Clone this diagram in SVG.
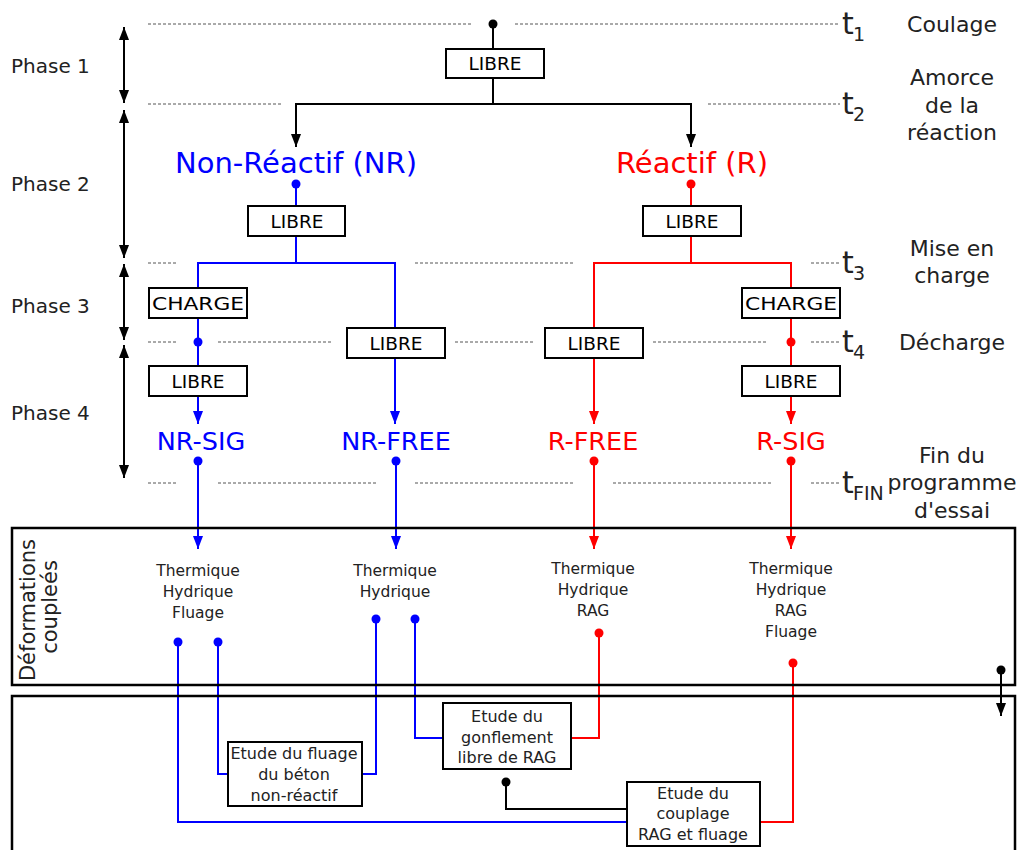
<svg xmlns="http://www.w3.org/2000/svg" width="1017" height="850" viewBox="0 0 1017 850">
<style>
text{font-family:"DejaVu Sans","Liberation Sans",sans-serif;fill:#222}
.lbl{font-size:22px;text-anchor:middle}
.ph{font-size:20px}
.tt{font-size:30px}
.ts{font-size:19px}
.bx{fill:#fff;stroke:#000;stroke-width:2}
.bt{font-size:18.5px;text-anchor:middle;fill:#000}
.big{font-size:29px;text-anchor:middle}
.nm{font-size:25.5px;text-anchor:middle}
.sm{font-size:15.5px;text-anchor:middle}
.sb{font-size:16px;text-anchor:middle}
.dash{stroke:#555;stroke-width:1;stroke-dasharray:3 2;fill:none}
.k{stroke:#000;stroke-width:2;fill:none}
.b{stroke:#0000ff;stroke-width:2;fill:none}
.r{stroke:#ff0000;stroke-width:2;fill:none}
.frame{fill:none;stroke:#000;stroke-width:2.5}
</style>
<defs>
<marker id="mk" viewBox="0 0 13 10" markerWidth="13" markerHeight="10" refX="13" refY="5" orient="auto-start-reverse" markerUnits="userSpaceOnUse"><path d="M0,0 L13,5 L0,10 Z" fill="#000"/></marker>
<marker id="mb" viewBox="0 0 13 10" markerWidth="13" markerHeight="10" refX="13" refY="5" orient="auto" markerUnits="userSpaceOnUse"><path d="M0,0 L13,5 L0,10 Z" fill="#0000ff"/></marker>
<marker id="mr" viewBox="0 0 13 10" markerWidth="13" markerHeight="10" refX="13" refY="5" orient="auto" markerUnits="userSpaceOnUse"><path d="M0,0 L13,5 L0,10 Z" fill="#ff0000"/></marker>
</defs>

<g id="timeline">
<path class="dash" d="M148,24H472M515,24H840M148,104H282M708,104H840M148,263H177M415,263H573M811,263H840M148,342H177M218,342H333M455,342H533M653,342H768M811,342H840M148,483H177M218,483H376M415,483H573M613,483H772M811,483H840"/>
<text class="tt" x="842" y="34">t</text><text class="ts" x="853" y="41">1</text>
<text class="tt" x="842" y="114">t</text><text class="ts" x="853" y="121">2</text>
<text class="tt" x="842" y="273">t</text><text class="ts" x="853" y="280">3</text>
<text class="tt" x="842" y="352">t</text><text class="ts" x="853" y="359">4</text>
<text class="tt" x="842" y="493">t</text><text class="ts" x="853" y="500">FIN</text>
</g>

<g id="event-labels">
<text class="lbl" x="952" y="32">Coulage</text>
<text class="lbl" x="952" y="85">Amorce</text>
<text class="lbl" x="952" y="113">de la</text>
<text class="lbl" x="952" y="140">réaction</text>
<text class="lbl" x="952" y="256">Mise en</text>
<text class="lbl" x="952" y="283">charge</text>
<text class="lbl" x="952" y="350">Décharge</text>
<text class="lbl" x="952" y="463">Fin du</text>
<text class="lbl" x="952" y="490">programme</text>
<text class="lbl" x="952" y="518">d'essai</text>
</g>

<g id="phases">
<text class="ph" x="11" y="73">Phase 1</text>
<text class="ph" x="11" y="191">Phase 2</text>
<text class="ph" x="11" y="313">Phase 3</text>
<text class="ph" x="11" y="420">Phase 4</text>
<path class="k" d="M124,27V103" marker-start="url(#mk)" marker-end="url(#mk)"/>
<path class="k" d="M124,110V258" marker-start="url(#mk)" marker-end="url(#mk)"/>
<path class="k" d="M124,264V340" marker-start="url(#mk)" marker-end="url(#mk)"/>
<path class="k" d="M124,345V478" marker-start="url(#mk)" marker-end="url(#mk)"/>
</g>

<g id="connectors">
<circle cx="493" cy="24" r="4.5" fill="#000"/>
<path class="k" d="M493,24V49M493,78V104M493,104H296V140M493,104H691V140"/>
<path class="k" d="M296,134V147" marker-end="url(#mk)"/>
<path class="k" d="M691,134V147" marker-end="url(#mk)"/>

<circle cx="296" cy="184" r="4.5" fill="#0000ff"/>
<path class="b" d="M296,184V206M296,236V263M198,288V263H395V328M198,318V366M198,396V415M395,358V415M198,461V540M396,461V540"/>
<path class="b" d="M198,410V424" marker-end="url(#mb)"/>
<path class="b" d="M395,410V424" marker-end="url(#mb)"/>
<path class="b" d="M198,535V549" marker-end="url(#mb)"/>
<path class="b" d="M396,535V549" marker-end="url(#mb)"/>
<circle cx="198" cy="342" r="4.5" fill="#0000ff"/>
<circle cx="198" cy="461" r="4.5" fill="#0000ff"/>
<circle cx="396" cy="461" r="4.5" fill="#0000ff"/>

<circle cx="691" cy="184" r="4.5" fill="#ff0000"/>
<path class="r" d="M691,184V206M691,236V263M594,328V263H791V288M791,318V366M791,396V415M594,358V415M594,461V540M791,461V540"/>
<path class="r" d="M594,410V424" marker-end="url(#mr)"/>
<path class="r" d="M791,410V424" marker-end="url(#mr)"/>
<path class="r" d="M594,535V549" marker-end="url(#mr)"/>
<path class="r" d="M791,535V549" marker-end="url(#mr)"/>
<circle cx="791" cy="342" r="4.5" fill="#ff0000"/>
<circle cx="594" cy="461" r="4.5" fill="#ff0000"/>
<circle cx="791" cy="461" r="4.5" fill="#ff0000"/>

<path class="b" d="M178,642V822H627M218,642V774H228M376,619V774H362M415,619V738H443"/>
<circle cx="178" cy="642" r="4.5" fill="#0000ff"/>
<circle cx="218" cy="642" r="4.5" fill="#0000ff"/>
<circle cx="376" cy="619" r="4.5" fill="#0000ff"/>
<circle cx="415" cy="619" r="4.5" fill="#0000ff"/>
<path class="r" d="M599,633V738H571M793,663V822H760"/>
<circle cx="599" cy="633" r="4.5" fill="#ff0000"/>
<circle cx="793" cy="663" r="4.5" fill="#ff0000"/>
<path class="k" d="M506,782V809H627"/>
<circle cx="506" cy="782" r="4.5" fill="#000"/>
<path class="k" d="M1001,670V716" marker-end="url(#mk)"/>
<circle cx="1001" cy="670" r="4.5" fill="#000"/>
</g>

<g id="libre-top"><rect class="bx" x="446" y="49" width="98" height="29"/><text class="bt" x="495" y="70">LIBRE</text></g>

<g id="nr"><text class="big" x="296" y="173" style="fill:#0000ff">Non-Réactif (NR)</text></g>
<g id="r"><text class="big" x="692" y="173" style="fill:#ff0000">Réactif (R)</text></g>

<g id="nr-libre"><rect class="bx" x="248" y="206" width="97" height="30"/><text class="bt" x="297" y="228">LIBRE</text></g>
<g id="r-libre"><rect class="bx" x="643" y="206" width="98" height="30"/><text class="bt" x="692" y="228">LIBRE</text></g>

<g id="nr-charge"><rect class="bx" x="149" y="288" width="98" height="30"/><text class="bt" x="198" y="310" textLength="92" lengthAdjust="spacingAndGlyphs">CHARGE</text></g>
<g id="nr-sig-libre"><rect class="bx" x="149" y="366" width="98" height="30"/><text class="bt" x="198" y="388">LIBRE</text></g>
<g id="nr-free-libre"><rect class="bx" x="347" y="328" width="98" height="30"/><text class="bt" x="396" y="350">LIBRE</text></g>
<g id="r-free-libre"><rect class="bx" x="545" y="328" width="98" height="30"/><text class="bt" x="594" y="350">LIBRE</text></g>
<g id="r-charge"><rect class="bx" x="742" y="288" width="98" height="30"/><text class="bt" x="791" y="310" textLength="92" lengthAdjust="spacingAndGlyphs">CHARGE</text></g>
<g id="r-sig-libre"><rect class="bx" x="742" y="366" width="98" height="30"/><text class="bt" x="791" y="388">LIBRE</text></g>

<g id="nr-sig"><text class="nm" x="201" y="450" style="fill:#0000ff">NR-SIG</text></g>
<g id="nr-free"><text class="nm" x="396" y="450" style="fill:#0000ff">NR-FREE</text></g>
<g id="r-free"><text class="nm" x="593" y="450" style="fill:#ff0000">R-FREE</text></g>
<g id="r-sig"><text class="nm" x="791" y="450" style="fill:#ff0000">R-SIG</text></g>

<g id="deformations">
<rect class="frame" x="12" y="528" width="1003" height="157"/>
<text transform="translate(35,610) rotate(-90)" style="font-size:21px;text-anchor:middle">Déformations</text>
<text transform="translate(57,607) rotate(-90)" style="font-size:21px;text-anchor:middle">coupleés</text>
<text class="sm" x="198" y="576">Thermique</text>
<text class="sm" x="198" y="597">Hydrique</text>
<text class="sm" x="198" y="618">Fluage</text>
<text class="sm" x="395" y="576">Thermique</text>
<text class="sm" x="395" y="597">Hydrique</text>
<text class="sm" x="593" y="574">Thermique</text>
<text class="sm" x="593" y="595">Hydrique</text>
<text class="sm" x="593" y="616">RAG</text>
<text class="sm" x="791" y="574">Thermique</text>
<text class="sm" x="791" y="595">Hydrique</text>
<text class="sm" x="791" y="616">RAG</text>
<text class="sm" x="791" y="637">Fluage</text>
</g>

<g id="etudes">
<rect class="frame" x="12" y="696" width="1003" height="170"/>
</g>

<g id="etude-fluage"><rect class="bx" x="228" y="742" width="134" height="64"/>
<text class="sb" x="294" y="759">Etude du fluage</text>
<text class="sb" x="294" y="780">du béton</text>
<text class="sb" x="294" y="801">non-réactif</text></g>

<g id="etude-gonflement"><rect class="bx" x="443" y="703" width="128" height="66"/>
<text class="sb" x="507" y="722">Etude du</text>
<text class="sb" x="507" y="743">gonflement</text>
<text class="sb" x="507" y="763">libre de RAG</text></g>

<g id="etude-couplage"><rect class="bx" x="627" y="782" width="133" height="64"/>
<text class="sb" x="693" y="799">Etude du</text>
<text class="sb" x="693" y="819">couplage</text>
<text class="sb" x="693" y="840">RAG et fluage</text></g>
</svg>
